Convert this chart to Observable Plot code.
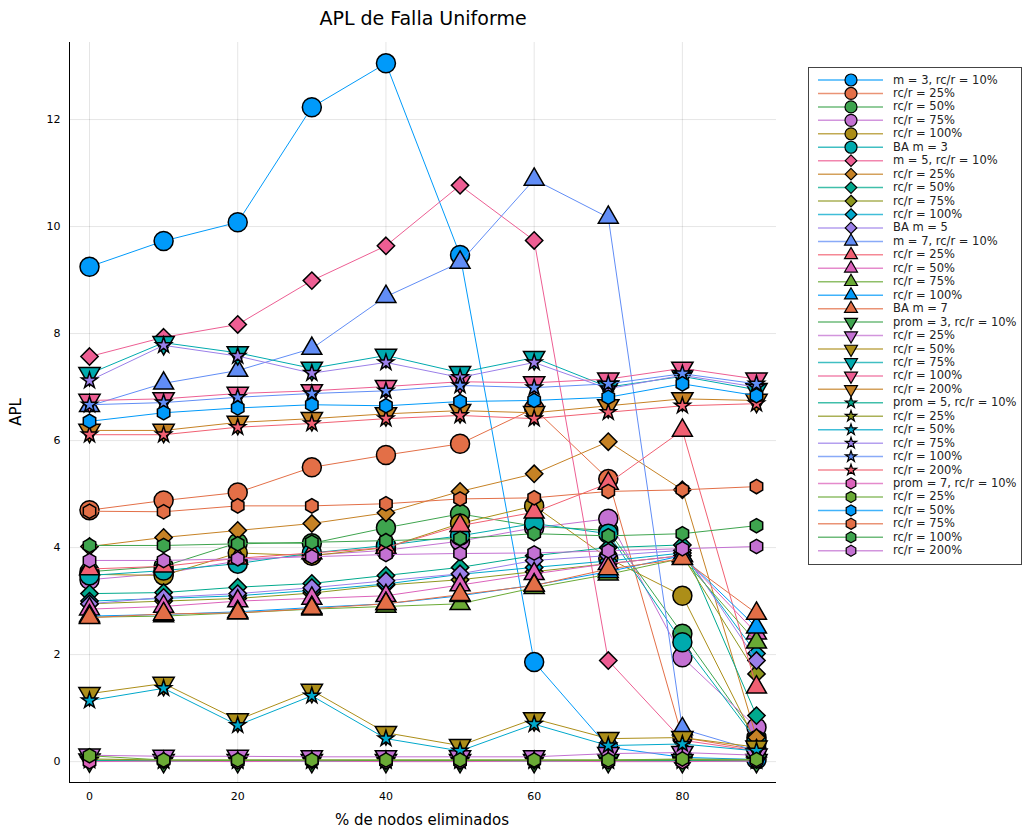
<!DOCTYPE html>
<html><head><meta charset="utf-8">
<script src="https://cdn.jsdelivr.net/npm/d3@7"></script>
<script src="https://cdn.jsdelivr.net/npm/@observablehq/plot@0.6"></script>
<style>body{margin:0;background:#fff}</style>
</head><body><div id="chart"></div>
<script>
// ---- data ----
const xs = [0, 10, 20, 30, 40, 50, 60, 70, 80, 90];
const xTicks = [0, 20, 40, 60, 80];
const yTicks = [0, 2, 4, 6, 8, 10, 12];

const m3_10  = [9.25, 9.73, 10.08, 12.23, 13.05, 9.47, 1.86, 0.27, 0.08, 0.04];
const m3_25  = [4.70, 4.88, 5.03, 5.50, 5.73, 5.94, 6.60, 5.28, 0.45, 0.22];
const m3_50  = [3.55, 3.65, 4.09, 4.08, 4.37, 4.63, 4.40, 4.32, 2.39, 0.45];
const m3_75  = [3.40, 3.52, 3.75, 3.86, 3.95, 4.12, 4.37, 4.54, 1.95, 0.64];
const m3_100 = [3.50, 3.48, 3.90, 3.85, 4.00, 4.45, 4.78, 3.80, 3.10, 0.35];
const ba3    = [3.48, 3.57, 3.70, 3.90, 4.04, 4.22, 4.45, 4.26, 2.23, 0.40];
const m5_10  = [7.57, 7.93, 8.17, 8.99, 9.64, 10.77, 9.74, 1.89, 0.40, 0.20];
const m5_25  = [4.02, 4.19, 4.32, 4.45, 4.65, 5.05, 5.38, 5.98, 5.08, 0.45];
const m5_50  = [3.14, 3.16, 3.26, 3.33, 3.48, 3.63, 3.85, 4.00, 4.05, 0.86];
const m5_75  = [2.95, 3.00, 3.05, 3.15, 3.30, 3.40, 3.55, 3.70, 3.85, 1.64];
const m5_100 = [3.00, 3.05, 3.10, 3.20, 3.32, 3.50, 3.63, 3.75, 3.90, 2.02];
const ba5    = [2.95, 3.07, 3.14, 3.25, 3.38, 3.51, 3.76, 3.85, 3.95, 1.89];
const m7_10  = [6.65, 7.07, 7.31, 7.72, 8.69, 9.33, 10.88, 10.17, 0.61, 0.20];
const m7_25  = [3.60, 3.65, 3.80, 3.90, 4.00, 4.41, 4.66, 5.20, 6.19, 1.39];
const m7_50  = [2.85, 2.90, 3.00, 3.05, 3.10, 3.30, 3.51, 3.70, 3.85, 2.40];
const m7_75  = [2.70, 2.72, 2.78, 2.85, 2.90, 2.95, 3.25, 3.50, 3.80, 2.23];
const m7_100 = [2.72, 2.75, 2.80, 2.88, 2.95, 3.10, 3.30, 3.55, 3.85, 2.51];
const ba7    = [2.69, 2.76, 2.78, 2.86, 2.95, 3.12, 3.29, 3.60, 3.79, 2.77];
const p3_10  = [0.03, 0.02, 0.02, 0.02, 0.02, 0.02, 0.02, 0.02, 0.02, 0.02];
const p3_25  = [0.12, 0.10, 0.10, 0.09, 0.09, 0.09, 0.09, 0.15, 0.17, 0.12];
const p3_50  = [1.27, 1.46, 0.78, 1.33, 0.54, 0.30, 0.80, 0.43, 0.45, 0.27];
const p3_75  = [7.25, 7.83, 7.64, 7.35, 7.59, 7.27, 7.55, 7.00, 7.20, 6.95];
const p3_100 = [6.75, 6.78, 6.88, 6.93, 7.01, 7.10, 7.08, 7.15, 7.35, 7.15];
const p3_200 = [6.19, 6.19, 6.34, 6.41, 6.50, 6.56, 6.52, 6.65, 6.78, 6.75];
const p5_10  = [0.02, 0.01, 0.01, 0.01, 0.01, 0.01, 0.01, 0.01, 0.01, 0.01];
const p5_25  = [0.05, 0.03, 0.03, 0.03, 0.03, 0.03, 0.03, 0.03, 0.04, 0.03];
const p5_50  = [1.14, 1.37, 0.68, 1.23, 0.43, 0.20, 0.70, 0.30, 0.33, 0.20];
const p5_75  = [7.12, 7.78, 7.58, 7.26, 7.46, 7.18, 7.46, 6.97, 7.22, 7.00];
const p5_100 = [6.67, 6.71, 6.81, 6.88, 6.93, 7.03, 6.99, 7.06, 7.25, 7.06];
const p5_200 = [6.11, 6.11, 6.25, 6.32, 6.41, 6.47, 6.41, 6.53, 6.65, 6.69];
const p7_10  = [0.00, 0.01, 0.00, 0.01, 0.00, 0.00, 0.01, 0.00, 0.00, 0.01];
const p7_25  = [0.11, 0.03, 0.03, 0.03, 0.03, 0.03, 0.03, 0.03, 0.05, 0.04];
const p7_50  = [6.36, 6.52, 6.61, 6.67, 6.65, 6.73, 6.75, 6.81, 7.06, 6.84];
const p7_75  = [4.68, 4.67, 4.78, 4.78, 4.82, 4.91, 4.93, 5.05, 5.08, 5.14];
const p7_100 = [4.04, 4.04, 4.07, 4.10, 4.13, 4.17, 4.26, 4.22, 4.26, 4.41];
const p7_200 = [3.76, 3.76, 3.79, 3.83, 3.87, 3.89, 3.90, 3.94, 3.98, 4.02];

const labels = [
  "m = 3, rc/r = 10%", "rc/r = 25%", "rc/r = 50%", "rc/r = 75%", "rc/r = 100%", "BA m = 3",
  "m = 5, rc/r = 10%", "rc/r = 25%", "rc/r = 50%", "rc/r = 75%", "rc/r = 100%", "BA m = 5",
  "m = 7, rc/r = 10%", "rc/r = 25%", "rc/r = 50%", "rc/r = 75%", "rc/r = 100%", "BA m = 7",
  "prom = 3, rc/r = 10%", "rc/r = 25%", "rc/r = 50%", "rc/r = 75%", "rc/r = 100%", "rc/r = 200%",
  "prom = 5, rc/r = 10%", "rc/r = 25%", "rc/r = 50%", "rc/r = 75%", "rc/r = 100%", "rc/r = 200%",
  "prom = 7, rc/r = 10%", "rc/r = 25%", "rc/r = 50%", "rc/r = 75%", "rc/r = 100%", "rc/r = 200%"
];
const values = [
  m3_10, m3_25, m3_50, m3_75, m3_100, ba3,
  m5_10, m5_25, m5_50, m5_75, m5_100, ba5,
  m7_10, m7_25, m7_50, m7_75, m7_100, ba7,
  p3_10, p3_25, p3_50, p3_75, p3_100, p3_200,
  p5_10, p5_25, p5_50, p5_75, p5_100, p5_200,
  p7_10, p7_25, p7_50, p7_75, p7_100, p7_200
];
const palette = ["#009AFA","#E36F47","#3EA44E","#C371D2","#AC8E18","#00AAAE","#ED5E93","#C68225",
                 "#00A98D","#8E971E","#00A8CB","#9B7FE9","#618DF6","#F16072","#DC63BB","#6AAA35"];
// marker per group of six series
const groupShapes = ["circle", "diamond", "triangle", "dtriangle", "star", "hexagon"];

// ---- styling ----
const shapeStyle = {
  circle:    {symbol: "circle",   r: 9.5, rotate: 0,   lr: 6},
  diamond:   {symbol: "diamond2", r: 7.8, rotate: 0,   lr: 5.2},
  triangle:  {symbol: "triangle", r: 7.4, rotate: 0,   lr: 4.8},
  dtriangle: {symbol: "triangle", r: 7.9, rotate: 180, lr: 4.8},
  star:      {symbol: "star",     r: 5.0, rotate: 0,   lr: 3.5},
  hexagon:   {symbol: "hexagon",  r: 6.2, rotate: 0,   lr: 4.8}
};

const W = 1024, H = 831;
const mL = 69, mR = 248, mT = 42, mB = 49;
const xDomain = [-2.7, 92.7];
const yDomain = [-0.39, 13.44];

const series = values.map((v, i) => ({
  label: labels[i],
  color: palette[i % palette.length],
  shape: groupShapes[Math.floor(i / 6)],
  data: xs.map((x, j) => ({x, y: v[j]}))
}));

const marks = [
  Plot.gridX(xTicks, {stroke: "#000", strokeOpacity: 0.1, strokeWidth: 1}),
  Plot.gridY(yTicks, {stroke: "#000", strokeOpacity: 0.1, strokeWidth: 1}),
  Plot.ruleX([xDomain[0]], {stroke: "#000", strokeWidth: 1}),
  Plot.ruleY([yDomain[0]], {stroke: "#000", strokeWidth: 1}),
  Plot.axisX({ticks: xTicks, tickSize: 0, tickPadding: 10, label: null, fontSize: 11}),
  Plot.axisY({ticks: yTicks, tickSize: 0, tickPadding: 9, label: null, fontSize: 11})
];
for (const s of series) {
  const st = shapeStyle[s.shape];
  marks.push(Plot.line(s.data, {x: "x", y: "y", stroke: s.color, strokeWidth: 1}));
  marks.push(Plot.dot(s.data, {x: "x", y: "y", symbol: st.symbol, r: st.r, rotate: st.rotate,
    fill: s.color, stroke: "#000", strokeWidth: 1.5}));
}

const chart = Plot.plot({
  width: W, height: H,
  marginLeft: mL, marginRight: mR, marginTop: mT, marginBottom: mB,
  style: {fontFamily: "'DejaVu Sans', sans-serif", background: "#fff", color: "#000", overflow: "visible"},
  x: {domain: xDomain},
  y: {domain: yDomain},
  marks
});
document.getElementById("chart").appendChild(chart);

// ---- titles & legend ----
const svg = d3.select(chart);
const font = "'DejaVu Sans', sans-serif";
svg.append("text").attr("x", 423).attr("y", 19).attr("text-anchor", "middle")
  .attr("dominant-baseline", "middle").attr("font-family", font).attr("font-size", 19)
  .attr("fill", "#000").text("APL de Falla Uniforme");
svg.append("text").attr("x", 422).attr("y", 820).attr("text-anchor", "middle")
  .attr("dominant-baseline", "middle").attr("font-family", font).attr("font-size", 15)
  .attr("fill", "#000").text("% de nodos eliminados");
svg.append("text").attr("transform", "translate(16,412) rotate(-90)").attr("text-anchor", "middle")
  .attr("dominant-baseline", "middle").attr("font-family", font).attr("font-size", 15)
  .attr("fill", "#000").text("APL");

const hexagonSym = {
  draw(ctx, size) {
    const rx = Math.sqrt(size / Math.PI), ry = rx * Math.sqrt(4 / 3), hy = ry / 2;
    ctx.moveTo(0, ry); ctx.lineTo(rx, hy); ctx.lineTo(rx, -hy);
    ctx.lineTo(0, -ry); ctx.lineTo(-rx, -hy); ctx.lineTo(-rx, hy); ctx.closePath();
  }
};
const d3Sym = {circle: d3.symbolCircle, diamond2: d3.symbolDiamond2, triangle: d3.symbolTriangle,
               star: d3.symbolStar, hexagon: hexagonSym};

const lg = svg.append("g").attr("text-anchor", "start");
const lx = 808.5, ly = 67.5, lw = 213, lh = 497, step = 13.45, row0 = 80;
lg.append("rect").attr("x", lx).attr("y", ly).attr("width", lw).attr("height", lh)
  .attr("fill", "#fff").attr("stroke", "#444").attr("stroke-width", 1);
series.forEach((s, i) => {
  const y = row0 + i * step;
  const st = shapeStyle[s.shape];
  lg.append("line").attr("x1", 818).attr("x2", 883).attr("y1", y).attr("y2", y)
    .attr("stroke", s.color).attr("stroke-width", 1.5).attr("stroke-opacity", 0.75);
  lg.append("path")
    .attr("d", d3.symbol(d3Sym[st.symbol], Math.PI * st.lr * st.lr)())
    .attr("transform", `translate(851,${y}) rotate(${st.rotate})`)
    .attr("fill", s.color).attr("stroke", "#000").attr("stroke-width", 1.2);
  lg.append("text").attr("x", 893).attr("y", y).attr("text-anchor", "start")
    .attr("dominant-baseline", "middle")
    .attr("font-family", font).attr("font-size", 11.5).attr("fill", "#222").text(s.label);
});
</script>
</body></html>
